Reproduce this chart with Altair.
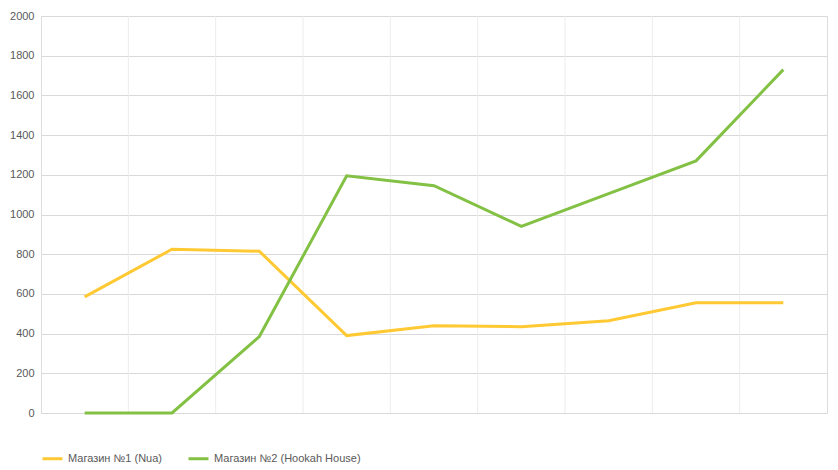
import altair as alt
import pandas as pd

months = ['Апрель 2021', 'Май 2021', 'Июнь 2021', 'Июль 2021', 'Август 2021',
          'Сентябрь 2021', 'Октябрь 2021', 'Ноябрь 2021', 'Декабрь 2021']
nua = [585, 825, 815, 390, 440, 435, 465, 555, 555]
hookah = [0, 0, 385, 1195, 1145, 940, 1105, 1270, 1730]
series_names = ['Магазин №1 (Nua)', 'Магазин №2 (Hookah House)']
colors = ['#FFC933', '#83C144']

rows = []
for i, m in enumerate(months):
    rows.append({'idx': i, 'month': m, 'series': series_names[0], 'value': nua[i]})
    rows.append({'idx': i, 'month': m, 'series': series_names[1], 'value': hookah[i]})
df = pd.DataFrame(rows)

bounds = pd.DataFrame({'b': [i - 0.5 for i in range(1, len(months))]})

label_expr = "[" + ",".join("'%s'" % m for m in months) + "][datum.value]"

xscale = alt.Scale(domain=[-0.5, len(months) - 0.5], nice=False, zero=False)

vgrid = alt.Chart(bounds).mark_rule(color='#ececec', strokeWidth=1).encode(
    x=alt.X('b:Q', scale=xscale, axis=None)
)

lines = alt.Chart(df).mark_line(strokeWidth=3).encode(
    x=alt.X('idx:Q', scale=xscale, title=None,
            axis=alt.Axis(values=list(range(len(months))), labelExpr=label_expr,
                          grid=False, ticks=False, domainColor='#d9d9d9',
                          labelPadding=9, labelColor='#595959', labelFontSize=11)),
    y=alt.Y('value:Q', title=None,
            scale=alt.Scale(domain=[0, 2000]),
            axis=alt.Axis(values=list(range(0, 2001, 200)), format='d',
                          gridColor='#d9d9d9', domain=False, ticks=False,
                          labelPadding=7, labelColor='#595959', labelFontSize=11)),
    color=alt.Color('series:N', scale=alt.Scale(domain=series_names, range=colors),
                    legend=alt.Legend(title=None, orient='bottom', direction='horizontal',
                                      symbolType='stroke', symbolStrokeWidth=3,
                                      symbolSize=400, labelColor='#595959',
                                      labelFontSize=11, offset=28, columnPadding=20))
)

chart = (vgrid + lines).properties(
    width=786, height=397,
    autosize=alt.AutoSizeParams(type='none'),
    padding={'left': 33, 'top': 8, 'right': 3, 'bottom': 57}
).configure_view(stroke=None).configure(font='Liberation Sans')

chart.save("out.html", embed_options={"renderer": "svg", "actions": False})
